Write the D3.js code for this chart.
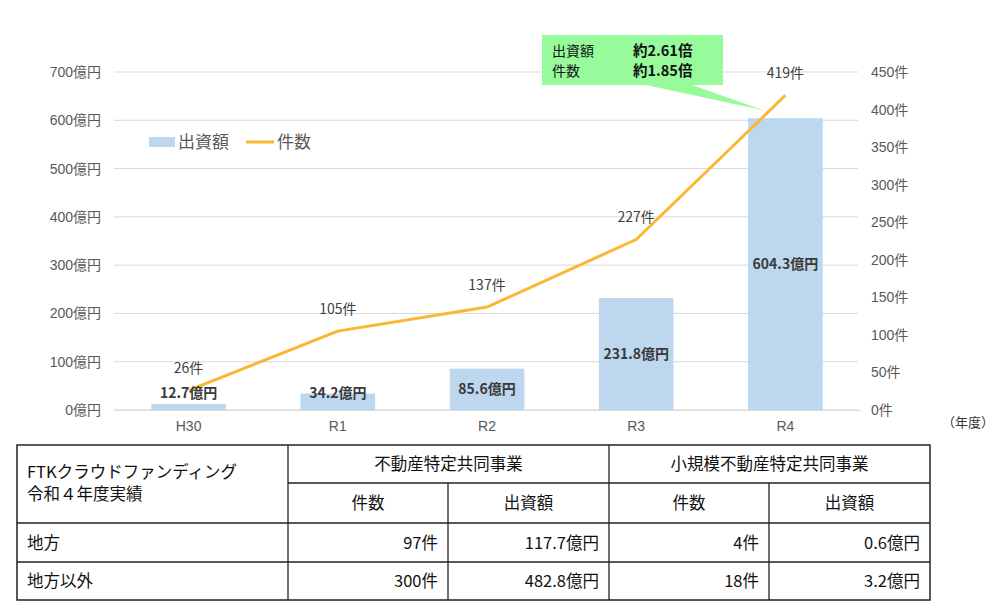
<!DOCTYPE html>
<html><head><meta charset="utf-8">
<script src="https://cdn.jsdelivr.net/npm/d3@7"></script>
<style>
body{margin:0;background:#fff;}
svg text{font-family:"Noto Sans CJK JP","Noto Sans",sans-serif;}
</style></head>
<body><svg id="c" width="998" height="615"></svg>
<script>
const categories = ["H30","R1","R2","R3","R4"];
const amounts = [12.7,34.2,85.6,231.8,604.3];
const counts = [26,105,137,227,419];
const leftTicks = [0,100,200,300,400,500,600,700];
const rightTicks = [0,50,100,150,200,250,300,350,400,450];
const calloutLabels = ["出資額","件数"];
const calloutValues = ["約2.61倍","約1.85倍"];
const tableHeader1 = ["FTKクラウドファンディング","令和４年度実績"];
const tableGroups = ["不動産特定共同事業","小規模不動産特定共同事業"];
const tableSub = ["件数","出資額","件数","出資額"];
const tableRowNames = ["地方","地方以外"];
const tableRows = [["97件","117.7億円","4件","0.6億円"],["300件","482.8億円","18件","3.2億円"]];

const svg = d3.select("#c");
const plotL = 114, plotR = 860, y0 = 410, yTop = 72;
const x = d3.scaleBand().domain(categories).range([plotL, plotR]).paddingInner(0.5).paddingOuter(0.25);
const yL = d3.scaleLinear().domain([0,700]).range([y0, yTop]);
const yR = d3.scaleLinear().domain([0,450]).range([y0, yTop]);
const cx = c => x(c) + x.bandwidth()/2;

// grid
svg.append("g").selectAll("line").data(leftTicks).join("line")
  .attr("x1", plotL).attr("x2", 858).attr("y1", d=>yL(d)).attr("y2", d=>yL(d))
  .attr("stroke", "#d9d9d9").attr("stroke-width", 1);

// left axis
const gL = svg.append("g").attr("transform", `translate(${plotL},0)`)
  .call(d3.axisLeft(yL).tickValues(leftTicks).tickSize(0).tickPadding(13).tickFormat(d=>d+"億円"));
gL.select(".domain").remove();
gL.selectAll("text").attr("font-size", 14).attr("fill", "#595959")
  .style("font-family", "'Liberation Sans','Noto Sans CJK JP',sans-serif");

// right axis
const gR = svg.append("g").attr("transform", `translate(858,0)`)
  .call(d3.axisRight(yR).tickValues(rightTicks).tickSize(0).tickPadding(13).tickFormat(d=>d+"件"));
gR.select(".domain").remove();
gR.selectAll("text").attr("font-size", 14).attr("fill", "#595959")
  .style("font-family", "'Liberation Sans','Noto Sans CJK JP',sans-serif");

// bottom axis
const gB = svg.append("g").attr("transform", `translate(0,${y0})`)
  .call(d3.axisBottom(x).tickSize(0).tickPadding(11));
gB.select(".domain").attr("stroke", "#d9d9d9");
gB.selectAll("text").attr("font-size", 14).attr("fill", "#595959")
  .style("font-family", "'Liberation Sans',sans-serif");

svg.append("text").attr("x", 968).attr("y", 427).attr("text-anchor", "middle")
  .attr("font-size", 13).attr("fill", "#333").text("（年度）");

// bars
svg.append("g").selectAll("rect").data(amounts).join("rect")
  .attr("x", (d,i)=>x(categories[i])).attr("width", x.bandwidth())
  .attr("y", d=>yL(d)).attr("height", d=>y0 - yL(d)).attr("fill", "#bdd7ee");

// line
const line = d3.line().x((d,i)=>cx(categories[i])).y(d=>yR(d));
svg.append("path").datum(counts).attr("d", line).attr("fill","none")
  .attr("stroke", "#fbb632").attr("stroke-width", 3).attr("stroke-linejoin","round");

// bar labels
svg.append("g").selectAll("text").data(amounts).join("text")
  .attr("x", (d,i)=>cx(categories[i]))
  .attr("y", d=>Math.min((yL(d)+y0)/2, y0-17)+5)
  .attr("text-anchor","middle").attr("font-size", 14).attr("font-weight","bold").attr("fill","#3a3a3a")
  .text(d=>d+"億円");

// count labels
svg.append("g").selectAll("text").data(counts).join("text")
  .attr("x", (d,i)=>cx(categories[i]))
  .attr("y", d=>yR(d)-17)
  .attr("text-anchor","middle").attr("font-size", 14).attr("fill","#404040")
  .text(d=>d+"件");

// legend
const lg = svg.append("g");
lg.append("rect").attr("x",149).attr("y",137).attr("width",26).attr("height",10).attr("fill","#bdd7ee");
lg.append("text").attr("x",178).attr("y",148).attr("font-size",17).attr("fill","#595959").text("出資額");
lg.append("line").attr("x1",246).attr("x2",274).attr("y1",142).attr("y2",142).attr("stroke","#fbb632").attr("stroke-width",3);
lg.append("text").attr("x",277).attr("y",148).attr("font-size",17).attr("fill","#595959").text("件数");

// callout
const tip = [cx("R4")-22, yR(counts[4])+15];
const cg = svg.append("g");
cg.append("path").attr("d", `M542,35 H723 V85 H692 L${tip[0]},${tip[1]} L646,85 H542 Z`).attr("fill","#97fa9b");
calloutLabels.forEach((t,i)=>{
  cg.append("text").attr("x",552).attr("y",55.5+i*20.5).attr("font-size",14).attr("fill","#111").text(t);
  cg.append("text").attr("x",633).attr("y",55.5+i*20.5).attr("font-size",14.5).attr("font-weight","bold").attr("fill","#111").text(calloutValues[i]);
});

// table
const tg = svg.append("g");
const colX = [17,288,448,609,769,930];
const rowY = [445,483,523,562,600];
const st = "#222";
tg.append("rect").attr("x",colX[0]).attr("y",rowY[0]).attr("width",colX[5]-colX[0]).attr("height",rowY[4]-rowY[0])
  .attr("fill","none").attr("stroke",st).attr("stroke-width",1.5);
const hl = (x1,x2,y)=>tg.append("line").attr("x1",x1).attr("x2",x2).attr("y1",y).attr("y2",y).attr("stroke",st).attr("stroke-width",1.3);
const vl = (xx,y1,y2)=>tg.append("line").attr("x1",xx).attr("x2",xx).attr("y1",y1).attr("y2",y2).attr("stroke",st).attr("stroke-width",1.3);
hl(colX[1],colX[5],rowY[1]); hl(colX[0],colX[5],rowY[2]); hl(colX[0],colX[5],rowY[3]);
vl(colX[1],rowY[0],rowY[4]); vl(colX[3],rowY[0],rowY[4]);
vl(colX[2],rowY[1],rowY[4]); vl(colX[4],rowY[1],rowY[4]);
const fs = 16.5;
tableHeader1.forEach((t,i)=>tg.append("text").attr("x",27).attr("y",478+i*22).attr("font-size",fs).attr("fill","#111").text(t));
tableGroups.forEach((t,i)=>tg.append("text").attr("x",(colX[1+2*i]+colX[3+2*i])/2).attr("y",(rowY[0]+rowY[1])/2+6)
  .attr("text-anchor","middle").attr("font-size",fs).attr("fill","#111").text(t));
tableSub.forEach((t,i)=>tg.append("text").attr("x",(colX[1+i]+colX[2+i])/2).attr("y",(rowY[1]+rowY[2])/2+6)
  .attr("text-anchor","middle").attr("font-size",fs).attr("fill","#111").text(t));
tableRowNames.forEach((t,r)=>{
  const yy = (rowY[2+r]+rowY[3+r])/2+6;
  tg.append("text").attr("x",27).attr("y",yy).attr("font-size",fs).attr("fill","#111").text(t);
  tableRows[r].forEach((v,c)=>tg.append("text").attr("x",colX[2+c]-10).attr("y",yy)
    .attr("text-anchor","end").attr("font-size",fs).attr("fill","#111").text(v));
});
</script></body></html>
